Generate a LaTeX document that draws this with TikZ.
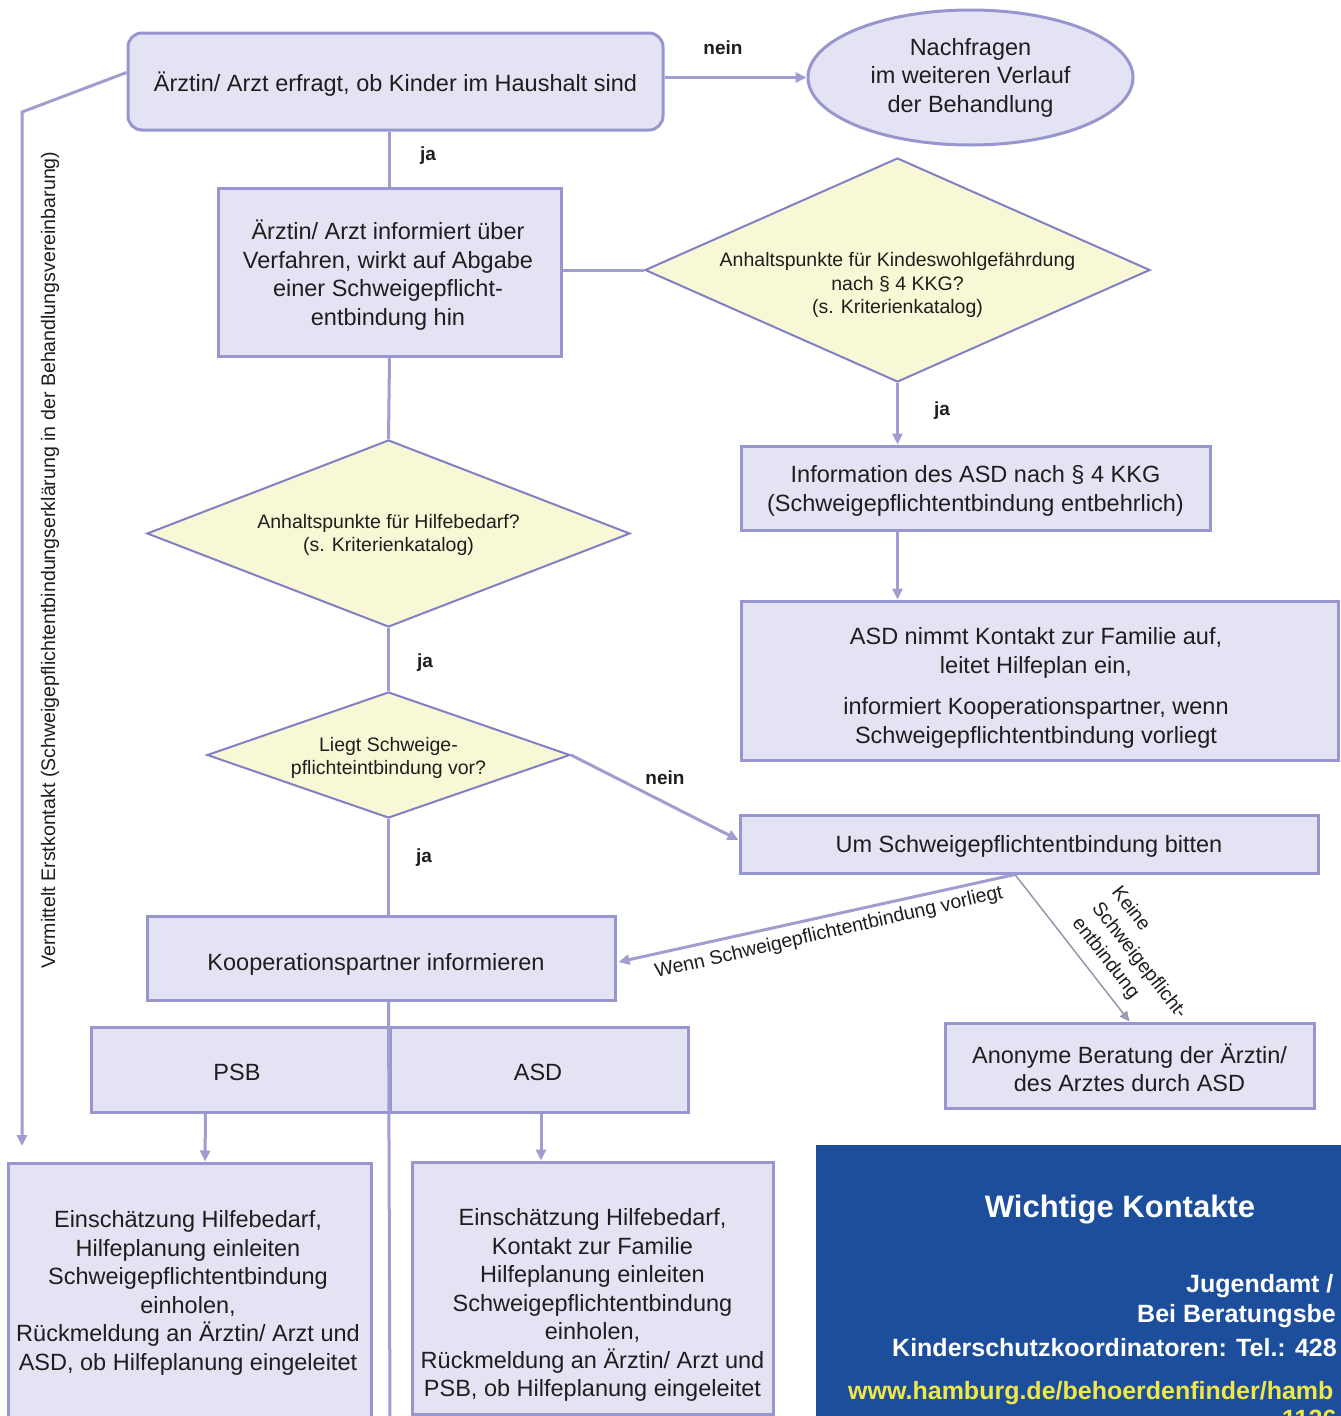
\documentclass[tikz,border=0pt]{standalone}
\usepackage{fontspec}
\setmainfont{Liberation Sans}
\usetikzlibrary{shapes.geometric,arrows.meta,calc}
\definecolor{boxfill}{RGB}{228,227,244}
\definecolor{boxline}{RGB}{152,150,206}
\definecolor{diafill}{RGB}{248,248,214}
\definecolor{dialine}{RGB}{130,128,196}
\definecolor{linkcol}{RGB}{160,158,208}
\definecolor{thincol}{RGB}{150,150,172}
\definecolor{blueback}{RGB}{28,78,156}
\definecolor{urlyellow}{RGB}{240,232,70}
\definecolor{txtcol}{RGB}{30,30,30}
\newcommand\bigtxt{\fontsize{23.5}{28.5}\selectfont}
\newcommand\midtxt{\fontsize{19.5}{23.5}\selectfont}
\newcommand\lbltxt{\fontsize{19}{22}\selectfont\bfseries}
\begin{document}
\begin{tikzpicture}[x=1pt,y=-1pt,text=txtcol,
  box/.style={draw=boxline,line width=3pt,fill=boxfill,align=center,font=\bigtxt,inner sep=0pt},
  dia/.style={draw=dialine,line width=2pt,fill=diafill,shape=diamond,inner sep=0pt},
  diatext/.style={align=center,font=\midtxt},
  link/.style={draw=linkcol,line width=3pt},
  arr/.style={link,-{Triangle[length=11pt,width=10pt]}},
  thinarr/.style={draw=thincol,line width=1.5pt,-{Triangle[length=10pt,width=9pt,fill=linkcol]}},
  lbl/.style={font=\lbltxt},
  slab/.style={font=\fontsize{19.5}{25}\selectfont},
  bluetxt/.style={font=\fontsize{25}{28}\selectfont\bfseries,text=white,anchor=west,inner sep=0pt}]
\useasboundingbox (0,0) rectangle (1341,1416);
\clip (0,0) rectangle (1341,1416);
\fill[white] (0,0) rectangle (1341,1416);

% nodes
\node[box,rounded corners=14pt,minimum width=535pt,minimum height=97pt,text depth=-1pt] (b1) at (395.5,81.5)
  {Ärztin/ Arzt erfragt, ob Kinder im Haushalt sind};
\node[box,shape=ellipse,minimum width=325pt,minimum height=135pt] (el) at (970.5,77.5)
  {Nachfragen\\ im weiteren Verlauf\\ der Behandlung};
\node[box,minimum width=343pt,minimum height=168pt] (b2) at (389.5,272) {};
\node[align=center,font=\bigtxt] (b2t) at (388,275)
  {Ärztin/ Arzt informiert über\\ Verfahren, wirkt auf Abgabe\\ einer Schweigepflicht-\\ entbindung hin};
\node[dia,minimum width=505pt,minimum height=224pt] (d1) at (897.5,270) {};
\node[diatext] (d1t) at (897.5,285) {Anhaltspunkte für Kindeswohlgefährdung\\ nach § 4 KKG?\\ (s. Kriterienkatalog)};
\node[box,minimum width=469pt,minimum height=84pt] (b3) at (975.5,488) {};
\node[align=center,font=\bigtxt] (b3t) at (975.5,491)
  {Information des ASD nach § 4 KKG\\ (Schweigepflichtentbindung entbehrlich)};
\node[box,minimum width=597pt,minimum height=159pt] (b4) at (1039.5,680.5) {};
\node[align=center,font=\bigtxt] (b4t) at (1036,688)
  {ASD nimmt Kontakt zur Familie auf,\\ leitet Hilfeplan ein,\\[13pt] informiert Kooperationspartner, wenn\\ Schweigepflichtentbindung vorliegt};
\node[dia,minimum width=483pt,minimum height=187pt] (d2) at (388.5,533.5) {};
\node[diatext] (d2t) at (388.5,535) {Anhaltspunkte für Hilfebedarf?\\ (s. Kriterienkatalog)};
\node[dia,minimum width=363pt,minimum height=126pt] (d3) at (388.5,755) {};
\node[diatext] (d3t) at (388.5,758) {Liegt Schweige-\\ pflichteintbindung vor?};
\node[box,minimum width=578pt,minimum height=58pt] (b5) at (1029,844) {};
\node[font=\bigtxt] (b5t) at (1029,846) {Um Schweigepflichtentbindung bitten};
\node[box,minimum width=468pt,minimum height=84pt] (b6) at (381,958) {};
\node[font=\bigtxt] (b6t) at (376,964) {Kooperationspartner informieren};
\node[box,minimum width=369pt,minimum height=85pt] (b7) at (1129.5,1065.5) {};
\node[align=center,font=\bigtxt] (b7t) at (1129.5,1068)
  {Anonyme Beratung der Ärztin/\\ des Arztes durch ASD};
\node[box,minimum width=299pt,minimum height=85pt] (psb) at (240.5,1069.5) {};
\node[font=\bigtxt] (psbt) at (237,1072) {PSB};
\node[box,minimum width=298pt,minimum height=85pt] (asd) at (539,1069.5) {};
\node[font=\bigtxt] (asdt) at (538,1072) {ASD};
\node[box,minimum width=363pt,minimum height=255pt] (b9) at (189.5,1290.5) {};
\node[align=center,font=\bigtxt] (b9t) at (188,1293)
  {Einschätzung Hilfebedarf,\\ Hilfeplanung einleiten\\ Schweigepflichtentbindung\\ einholen,\\ Rückmeldung an Ärztin/ Arzt und\\ ASD, ob Hilfeplanung eingeleitet};
\node[box,minimum width=361pt,minimum height=252pt] (b10) at (592.5,1288) {};
\node[align=center,font=\bigtxt] (b10t) at (592.5,1305)
  {Einschätzung Hilfebedarf,\\ Kontakt zur Familie\\ Hilfeplanung einleiten\\ Schweigepflichtentbindung\\ einholen,\\ Rückmeldung an Ärztin/ Arzt und\\ PSB, ob Hilfeplanung eingeleitet};

% coordinates
\coordinate (lbend) at (22,112);
\coordinate (lend) at (22,1146);
\coordinate (vbot) at (390,1420);
\coordinate (split) at ($(b5.south)+(-14,0)$);

% connectors
\draw[arr] (b1.east |- el.west) -- (el.west);
\draw[link] (b1.south -| b2.north) -- (b2.north);
\draw[link] (b2.east |- d1.west) -- (d1.west);
\draw[arr] (d1.south) -- (d1.south |- b3.north);
\draw[arr] (d1.south |- b3.south) -- (d1.south |- b4.north);
\draw[link] (b2.south) -- (d2.north);
\draw[link] (d2.south) -- (d3.north);
\draw[arr] (d3.east) -- ($(b5.west)+(0,-4)$);
\draw[link] (d3.south) -- (d3.south |- b6.north);
\draw[link] (d3.south |- b6.south) -- (vbot);
\draw[arr] (split) -- ($(b6.east)+(2,4)$);
\draw[thinarr] (split) -- (b7.north);
\draw[arr] ($(psb.south)+(-35,0)$) -- ($(b9.north)+(15.5,0)$);
\draw[arr] ($(asd.south)+(2,0)$) -- ($(b10.north)+(-51.5,0)$);
\draw[arr] ($(b1.west)+(0,-9)$) -- (lbend) -- (lend);

% labels
\node[lbl] (l1) at (723,48) {nein};
\node[lbl] (l2) at (428,156) {ja};
\node[lbl] (l3) at (942,411) {ja};
\node[lbl] (l4) at (425,663) {ja};
\node[lbl] (l5) at (665,778) {nein};
\node[lbl] (l6) at (424,858) {ja};
\node[slab,rotate=13] (l7) at (829,933) {Wenn Schweigepflichtentbindung vorliegt};
\node[slab,rotate=-52,align=left] (l8) at (1139,961) {Keine\\ Schweigepflicht-\\ entbindung};
\node[font=\fontsize{19.6}{22}\selectfont,rotate=90] (vt) at (50,560)
  {Vermittelt Erstkontakt (Schweigepflichtentbindungserklärung in der Behandlungsvereinbarung)};

% blue contact panel
\fill[blueback] (816,1145) rectangle (1345,1420);
\node[font=\fontsize{31}{34}\selectfont\bfseries,text=white] (wk) at (1120,1210) {Wichtige Kontakte};
\node[bluetxt] (k1) at (1186,1286) {Jugendamt /};
\node[bluetxt] (k2) at (1137,1316) {Bei Beratungsbe};
\node[bluetxt] (k3) at (892,1348) {Kinderschutzkoordinatoren: Tel.: 428};
\node[bluetxt] (k4) at (848,1393) {\textcolor{urlyellow}{www.hamburg.de/behoerdenfinder/hamb}};
\node[bluetxt] (k5) at (1282,1419) {\textcolor{urlyellow}{1126}};
\end{tikzpicture}
\end{document}
